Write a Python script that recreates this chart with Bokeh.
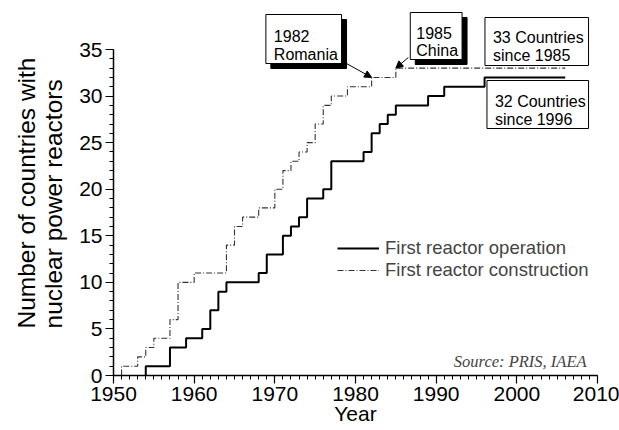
from bokeh.plotting import figure
from bokeh.models import (Label, Arrow, NormalHead, Legend, LegendItem, FixedTicker,
                          Range1d, Title)
from bokeh.embed import file_html
from bokeh.resources import INLINE

# ---- data ----
op_years = [1954, 1957, 1959, 1961, 1962, 1963, 1964, 1968, 1969, 1971, 1972, 1973,
            1974, 1976, 1977, 1981, 1982, 1983, 1984, 1985, 1989, 1991, 1996]
op_counts = [1, 3, 4, 5, 7, 9, 10, 11, 13, 15, 16, 17,
             19, 20, 23, 24, 26, 27, 28, 29, 30, 31, 32]
con_years = [1951, 1953, 1954, 1955, 1957, 1958, 1960, 1964, 1965, 1966, 1968, 1970,
             1971, 1972, 1973, 1974, 1975, 1976, 1977, 1979, 1982, 1985]
con_counts = [1, 2, 3, 4, 6, 10, 11, 14, 16, 17, 18, 20,
              22, 23, 24, 25, 27, 29, 30, 31, 32, 33]
end_year = 2006
x_ticks = [1950, 1960, 1970, 1980, 1990, 2000, 2010]
y_ticks = [0, 5, 10, 15, 20, 25, 30, 35]
series_names = ["First reactor operation", "First reactor construction"]
callouts = [(["1982", "Romania"], 1982), (["1985", "China"], 1985)]
notes = [["33 Countries", "since 1985"], ["32 Countries", "since 1996"]]
source_text = "Source: PRIS, IAEA"
x_title = "Year"
y_title = "Number of countries with\nnuclear power reactors"

# ---- layout (canvas pixels) ----
W, H = 619, 430
FL, FR, FT, FB = 111, 597, 49, 375   # where the axes' extents lie
FRAME_TOP = 10
X0, X1, Y0, Y1 = x_ticks[0], x_ticks[-1], y_ticks[0], y_ticks[-1]
sx_ = (X1 - X0) / (FR - FL)
sy_ = (Y1 - Y0) / (FB - FT)
YTOP = Y1 + (FT - FRAME_TOP) * sy_


def px(xp, yp):
    return (X0 + (xp - FL) * sx_, Y1 - (yp - FT) * sy_)


def steps(years, counts, end):
    xs, ys = [years[0]], [0]
    for i, (x, c) in enumerate(zip(years, counts)):
        nxt = years[i + 1] if i + 1 < len(years) else end
        xs += [x, nxt]
        ys += [c, c]
    return xs, ys


FONT = "Liberation Sans"

p = figure(width=W, height=H, output_backend="svg", toolbar_location=None,
           x_range=Range1d(X0, X1), y_range=Range1d(Y0, YTOP),
           min_border_left=FL, min_border_right=W - FR,
           min_border_top=FRAME_TOP, min_border_bottom=H - FB)
p.outline_line_color = None
p.grid.visible = False
p.background_fill_color = "white"
p.border_fill_color = "white"

for ax in (p.xaxis[0], p.yaxis[0]):
    ax.axis_line_width = 1.5
    ax.axis_line_color = "black"
    ax.major_tick_out = 8
    ax.major_tick_in = 0
    ax.minor_tick_out = 4
    ax.minor_tick_in = 0
    ax.major_tick_line_width = 1.2
    ax.minor_tick_line_width = 1
    ax.major_label_text_font = FONT
    ax.major_label_text_font_size = "21px"
    ax.major_label_text_color = "black"
    ax.major_label_standoff = 3
    ax.axis_label_text_font = FONT
    ax.axis_label_text_font_style = "normal"
    ax.axis_label_text_color = "black"

p.xaxis.ticker = FixedTicker(ticks=x_ticks, minor_ticks=list(range(X0, X1 + 1)))
p.yaxis.ticker = FixedTicker(ticks=y_ticks, minor_ticks=list(range(Y0, Y1 + 1)))
p.xaxis.bounds = (X0, X1)
p.yaxis.bounds = (Y0, Y1)
p.xaxis.axis_label = x_title
p.xaxis.axis_label_text_font_size = "21px"
p.xaxis.axis_label_standoff = -2

p.add_layout(Title(text=y_title, align="center", offset=8, standoff=20,
                   text_font=FONT, text_font_style="normal", text_font_size="24.5px",
                   text_line_height=1.0, text_color="black"), "left")

xo, yo = steps(op_years, op_counts, end_year)
xc, yc = steps(con_years, con_counts, end_year)
r_con = p.line(xc, yc, line_color="#333333", line_width=1.1, line_dash="6 2 1 2")
r_op = p.line(xo, yo, line_color="black", line_width=2)

legend = Legend(items=[LegendItem(label=series_names[0], renderers=[r_op]),
                       LegendItem(label=series_names[1], renderers=[r_con])],
                location=(224, 94), glyph_width=42, glyph_height=20,
                label_standoff=6, spacing=0, padding=0, margin=0,
                label_text_font=FONT, label_text_font_size="18.5px",
                border_line_alpha=0, background_fill_alpha=0)
p.add_layout(legend)

# callout / note boxes (page pixels -> data), shadows first
SH = 5
boxes = [  # (left, top, right, bottom, shadow)
    (264, 14, 340, 63, True),
    (409, 12, 461, 59, True),
    (484, 17, 588, 65, False),
    (486, 80, 588, 128, False),
]
for shadow_pass in (True, False):
    L, R, T, B = [], [], [], []
    for (l, t, r, b, sh) in boxes:
        if shadow_pass and not sh:
            continue
        o = SH if shadow_pass else 0
        x0, y0 = px(l + o, t + o)
        x1, y1 = px(r + o, b + o)
        L.append(x0); R.append(x1); T.append(y0); B.append(y1)
    p.quad(left=L, right=R, top=T, bottom=B,
           fill_color="black" if shadow_pass else "white",
           line_color="black", line_width=1)


def text_lines(lines, left, baselines):
    for s, bl in zip(lines, baselines):
        x, y = px(left, bl)
        p.add_layout(Label(x=x, y=y, text=s, text_font=FONT, text_font_size="16px",
                           text_align="left", text_baseline="alphabetic",
                           text_color="black"))


text_lines(callouts[0][0], 272, [35, 54])
text_lines(callouts[1][0], 415, [32, 50])
text_lines(notes[0], 492, [37, 55])
text_lines(notes[1], 494, [101, 119])


def count_at(years, counts, yr):
    v = 0
    for y_, c in zip(years, counts):
        if y_ <= yr:
            v = c
    return v


for (txt, yr), start in zip(callouts, [(345, 63), (407, 57)]):
    sx, sy = px(*start)
    p.add_layout(Arrow(x_start=sx, y_start=sy, x_end=yr,
                       y_end=count_at(con_years, con_counts, yr),
                       line_color="black", line_width=1,
                       end=NormalHead(size=7, fill_color="black", line_color="black")))

sx, sy = px(586, 361)
p.add_layout(Label(x=sx, y=sy, text=source_text, text_font="Liberation Serif",
                   text_font_style="italic", text_font_size="16.5px",
                   text_align="right", text_baseline="alphabetic"))

open("out.html", "w").write(file_html(p, INLINE))
